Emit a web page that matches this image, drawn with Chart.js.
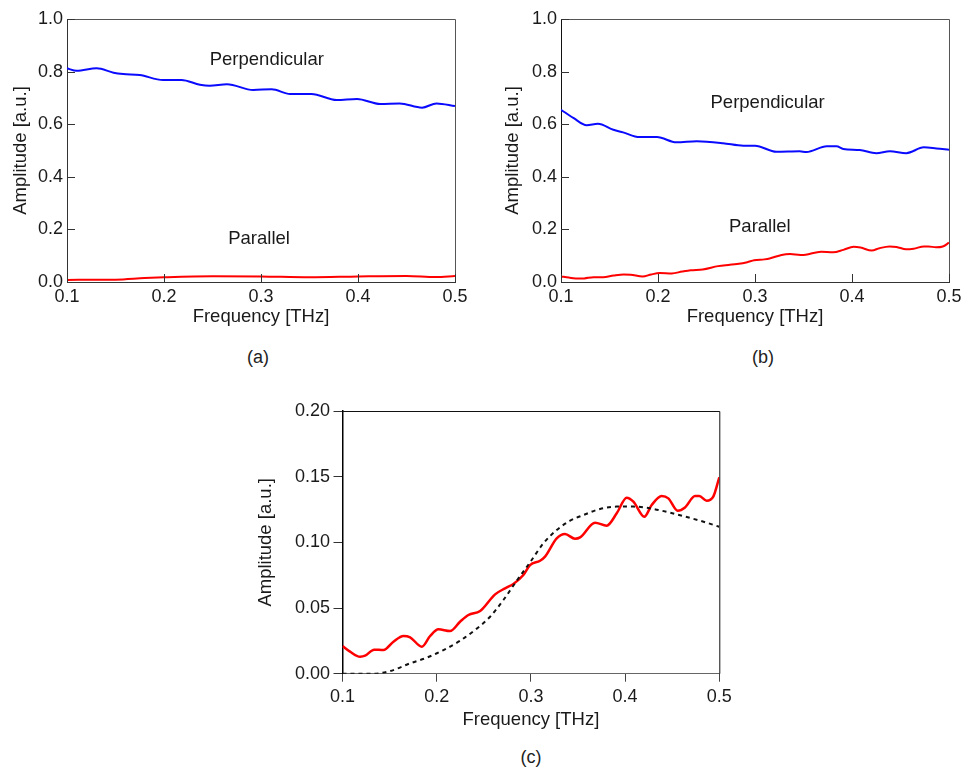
<!DOCTYPE html>
<html><head><meta charset="utf-8">
<script src="https://cdn.jsdelivr.net/npm/chart.js@4.4.1/dist/chart.umd.min.js"></script>
<style>
body{margin:0;background:#fff;width:964px;height:767px;position:relative;overflow:hidden;font-family:"Liberation Sans",Arial,sans-serif;}
.pane{position:absolute;}
.cap{position:absolute;font-size:18px;color:#222;transform:translate(-50%,-50%);white-space:nowrap;}
</style></head><body>
<div class="pane" style="left:0;top:0;"><canvas id="ca" width="480" height="340"></canvas></div>
<div class="pane" style="left:490px;top:0;"><canvas id="cb" width="474" height="340"></canvas></div>
<div class="pane" style="left:250px;top:390px;"><canvas id="cc" width="490" height="350"></canvas></div>
<div class="cap" style="left:258px;top:357px;">(a)</div>
<div class="cap" style="left:763px;top:357px;">(b)</div>
<div class="cap" style="left:531px;top:757px;">(c)</div>
<script>
// ---------- data ----------
const xTickValues = [0.1, 0.2, 0.3, 0.4, 0.5];
const yTickValuesAB = [0, 0.2, 0.4, 0.6, 0.8, 1.0];
const yTickValuesC = [0, 0.05, 0.10, 0.15, 0.20];

// (a) perpendicular
const freqPerpA = [0.1, 0.11, 0.1306, 0.148, 0.158, 0.175, 0.199, 0.218, 0.237, 0.247, 0.265, 0.292, 0.311, 0.330, 0.352, 0.378, 0.399, 0.423, 0.443, 0.466, 0.481, 0.5];
const ampPerpA  = [0.8125, 0.803, 0.8125, 0.796, 0.791, 0.787, 0.768, 0.768, 0.750, 0.746, 0.752, 0.730, 0.733, 0.715, 0.715, 0.692, 0.696, 0.677, 0.679, 0.663, 0.679, 0.669];
// (a) parallel
const freqParA = [0.1, 0.15, 0.18, 0.2, 0.25, 0.3, 0.35, 0.4, 0.45, 0.48, 0.5];
const ampParA  = [0.008, 0.009, 0.015, 0.018, 0.022, 0.021, 0.018, 0.021, 0.023, 0.019, 0.023];

// (b) perpendicular
const freqPerpB = [0.1, 0.1127, 0.1265, 0.138, 0.154, 0.164, 0.181, 0.199, 0.219, 0.240, 0.267, 0.288, 0.300, 0.322, 0.346, 0.353, 0.374, 0.384, 0.391, 0.408, 0.425, 0.439, 0.456, 0.474, 0.487, 0.5];
const ampPerpB  = [0.655, 0.624, 0.596, 0.602, 0.579, 0.569, 0.551, 0.551, 0.531, 0.535, 0.528, 0.518, 0.518, 0.495, 0.497, 0.494, 0.516, 0.516, 0.506, 0.502, 0.490, 0.497, 0.490, 0.512, 0.508, 0.503];

// (b) and (c) parallel (measured)
const freqPar = [0.1, 0.108, 0.1187, 0.124, 0.1336, 0.1435, 0.1541, 0.1647, 0.1718, 0.1842, 0.193, 0.2019, 0.2142, 0.2248, 0.2337, 0.2461, 0.262, 0.2726, 0.2814, 0.292, 0.2991, 0.3097, 0.315, 0.3274, 0.3362, 0.3468, 0.3522, 0.3681, 0.3805, 0.3911, 0.4017, 0.4088, 0.4204, 0.4282, 0.4388, 0.4459, 0.4558, 0.4636, 0.4742, 0.4788, 0.4866, 0.4936, 0.5];
const ampPar  = [0.0211, 0.0168, 0.0129, 0.0137, 0.0183, 0.018, 0.0244, 0.0287, 0.0277, 0.0206, 0.0287, 0.0338, 0.0325, 0.0396, 0.0447, 0.0477, 0.0604, 0.065, 0.0683, 0.0751, 0.0827, 0.086, 0.0891, 0.103, 0.1063, 0.1028, 0.1038, 0.115, 0.1127, 0.1221, 0.134, 0.131, 0.1195, 0.1284, 0.1353, 0.1335, 0.1241, 0.1266, 0.1353, 0.1353, 0.1317, 0.1348, 0.1495];

// (c) model (dashed)
const freqModel = [0.1, 0.133, 0.1506, 0.1718, 0.1895, 0.2072, 0.2248, 0.2425, 0.2567, 0.2708, 0.285, 0.2991, 0.3132, 0.3274, 0.3416, 0.3557, 0.3734, 0.3911, 0.4088, 0.4264, 0.4477, 0.4618, 0.4795, 0.5];
const ampModel  = [0, 0, 0.002, 0.0079, 0.0122, 0.018, 0.0251, 0.0343, 0.0434, 0.0561, 0.0708, 0.0848, 0.0992, 0.1094, 0.1165, 0.1208, 0.1254, 0.1272, 0.1272, 0.1259, 0.1226, 0.12, 0.1165, 0.1119];

const pts = (xs, ys) => xs.map((x, i) => ({x, y: ys[i]}));
const FONT = '"Liberation Sans", Arial, sans-serif';
const BLUE = '#0a0aff', RED = '#ff0000';

const framePlugin = {
  id: 'frame',
  afterDatasetsDraw(chart, args, o) {
    const {ctx, chartArea: {left, right, top, bottom}} = chart;
    const xs = chart.scales.x, ys = chart.scales.y;
    ctx.save();
    ctx.strokeStyle = o.color; ctx.lineWidth = 1;
    ctx.beginPath();
    ctx.moveTo(left, top + 0.5); ctx.lineTo(right + 0.5, top + 0.5); ctx.lineTo(right + 0.5, bottom);
    ctx.stroke();
    if (o.inward) {
      ctx.strokeStyle = o.tickColor;
      ctx.beginPath();
      xs.ticks.forEach(t => { const px = Math.round(xs.getPixelForValue(t.value)) + 0.5; ctx.moveTo(px, bottom); ctx.lineTo(px, bottom - o.len); });
      ys.ticks.forEach(t => { const py = Math.round(ys.getPixelForValue(t.value)) + 0.5; ctx.moveTo(left, py); ctx.lineTo(left + o.len, py); });
      ctx.stroke();
    }
    ctx.fillStyle = '#1a1a1a';
    ctx.font = '18.5px ' + FONT;
    ctx.textAlign = 'center'; ctx.textBaseline = 'middle';
    (o.labels || []).forEach(l => ctx.fillText(l.text, xs.getPixelForValue(l.x), ys.getPixelForValue(l.y)));
    ctx.restore();
  }
};

function makeChart(id, c) {
  const tickFont = {family: FONT, size: 18};
  const titleFont = {family: FONT, size: 18.5};
  return new Chart(document.getElementById(id), {
    type: 'line',
    data: {datasets: c.datasets},
    options: {
      responsive: false, animation: false,
      layout: {padding: c.pad},
      plugins: {legend: {display: false}, tooltip: {enabled: false},
        frame: {color: c.frameColor, tickColor: '#333', inward: c.inward, len: 8, labels: c.labels}},
      elements: {point: {radius: 0}, line: {cubicInterpolationMode: 'monotone'}},
      scales: {
        x: {
          type: 'linear', min: 0.1, max: 0.5,
          afterBuildTicks: s => { s.ticks = xTickValues.map(v => ({value: v})); },
          afterFit: s => { s.height = c.xHeight; s.paddingLeft = 0; s.paddingRight = 0; },
          grid: {drawOnChartArea: false, drawTicks: !c.inward, tickLength: 8, color: '#444'},
          border: {display: true, color: c.borderX, width: 1},
          ticks: {padding: c.xLabelPad, color: '#1a1a1a', font: tickFont, maxRotation: 0,
            callback: v => v.toFixed(1)},
          title: {display: true, text: 'Frequency [THz]', color: '#1a1a1a', font: titleFont,
            padding: {top: 0, bottom: c.xTitlePad}}
        },
        y: {
          type: 'linear', min: c.yMin, max: c.yMax,
          afterBuildTicks: s => { s.ticks = c.yTicks.map(v => ({value: v})); },
          afterFit: s => { s.width = c.yWidth; s.paddingTop = 0; s.paddingBottom = 0; },
          grid: {drawOnChartArea: false, drawTicks: !c.inward, tickLength: 9, color: '#333'},
          border: {display: true, color: c.borderY, width: c.borderYW},
          ticks: {padding: c.yLabelPad, color: '#1a1a1a', font: tickFont,
            callback: v => v.toFixed(c.yDec)},
          title: {display: true, text: 'Amplitude [a.u.]', color: '#1a1a1a', font: titleFont,
            padding: {top: c.yTitlePad, bottom: 0}}
        }
      }
    },
    plugins: [framePlugin]
  });
}

makeChart('ca', {
  datasets: [
    {data: pts(freqPerpA, ampPerpA), borderColor: BLUE, borderWidth: 2},
    {data: pts(freqParA, ampParA), borderColor: RED, borderWidth: 2}
  ],
  labels: [{text: 'Perpendicular', x: 0.306, y: 0.844}, {text: 'Parallel', x: 0.298, y: 0.163}],
  pad: {top: 19, right: 25, left: 0, bottom: 0},
  xHeight: 58, yWidth: 67, xLabelPad: 4.5, yLabelPad: 4, xTitlePad: 11.9, yTitlePad: 9.9,
  yMin: 0, yMax: 1, yTicks: yTickValuesAB, yDec: 1, inward: true,
  frameColor: '#555', borderX: '#333', borderY: '#333', borderYW: 1
});

makeChart('cb', {
  datasets: [
    {data: pts(freqPerpB, ampPerpB), borderColor: BLUE, borderWidth: 2},
    {data: pts(freqPar, ampPar), borderColor: RED, borderWidth: 2}
  ],
  labels: [{text: 'Perpendicular', x: 0.313, y: 0.682}, {text: 'Parallel', x: 0.305, y: 0.21}],
  pad: {top: 19, right: 15, left: 0, bottom: 0},
  xHeight: 58, yWidth: 71, xLabelPad: 4.5, yLabelPad: 4, xTitlePad: 11.9, yTitlePad: 12.2,
  yMin: 0, yMax: 1, yTicks: yTickValuesAB, yDec: 1, inward: true,
  frameColor: '#555', borderX: '#333', borderY: '#111', borderYW: 1
});

makeChart('cc', {
  datasets: [
    {data: pts(freqModel, ampModel), borderColor: '#111', borderWidth: 2, borderDash: [4, 4]},
    {data: pts(freqPar, ampPar), borderColor: RED, borderWidth: 2.5}
  ],
  labels: [],
  pad: {top: 21, right: 20.7, left: 0, bottom: 0},
  xHeight: 66.3, yWidth: 92.5, xLabelPad: 4.2, yLabelPad: 3.5, xTitlePad: 9.2, yTitlePad: 4.6,
  yMin: 0, yMax: 0.2, yTicks: yTickValuesC, yDec: 2, inward: false,
  frameColor: '#111', borderX: '#666', borderY: '#000', borderYW: 1.5
});
</script>
</body></html>
